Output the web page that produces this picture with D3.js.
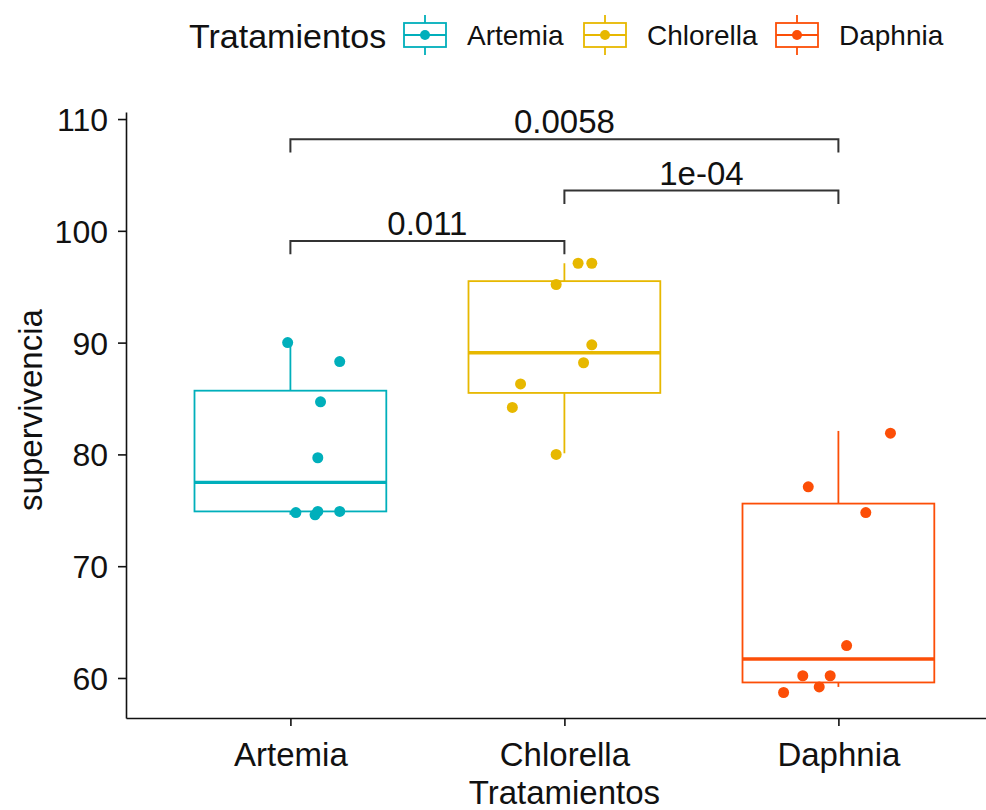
<!DOCTYPE html>
<html>
<head>
<meta charset="utf-8">
<script src="https://cdn.jsdelivr.net/npm/d3@7"></script>
<style>
  body { margin: 0; background: #fff; }
  svg text { font-family: "Liberation Sans", Arial, sans-serif; fill: #111; }
</style>
</head>
<body>
<div id="chart"></div>
<script>
// Data
const categories = ["Artemia", "Chlorella", "Daphnia"];
const colors = ["#00AFBB", "#E7B800", "#FC4E07"];

const artemiaPts = [90.0, 88.3, 84.7, 79.7, 74.8, 74.6, 74.9, 74.9];
const artemiaJitter = [-0.01, 0.18, 0.11, 0.10, 0.02, 0.09, 0.10, 0.18];
const chlorellaPts = [97.1, 97.1, 95.2, 89.8, 88.2, 86.3, 84.2, 80.0];
const chlorellaJitter = [0.05, 0.10, -0.03, 0.10, 0.07, -0.16, -0.19, -0.03];
const daphniaPts = [81.9, 77.1, 74.8, 62.9, 60.2, 60.2, 59.2, 58.7];
const daphniaJitter = [0.19, -0.11, 0.10, 0.03, -0.13, -0.03, -0.07, -0.20];

// box stats: [whisker low, q1, median, q3, whisker high]
const artemiaBox = [74.6, 74.9, 77.5, 85.7, 90.0];
const chlorellaBox = [80.1, 85.5, 89.1, 95.5, 97.1];
const daphniaBox = [59.2, 59.6, 61.7, 75.6, 82.1];

const yTicks = [60, 70, 80, 90, 100, 110];

const comparisons = [["Artemia", "Chlorella"], ["Chlorella", "Daphnia"], ["Artemia", "Daphnia"]];
const pLabels = ["0.011", "1e-04", "0.0058"];
const bracketY = [99.1, 103.6, 108.2];

const width = 986, height = 810;
const plotLeft = 126, plotTop = 112, plotBottom = 718;
const step = 274;

const groups = categories.map((c, i) => ({
    name: c,
    color: colors[i],
    pts: [artemiaPts, chlorellaPts, daphniaPts][i],
    jit: [artemiaJitter, chlorellaJitter, daphniaJitter][i],
    box: [artemiaBox, chlorellaBox, daphniaBox][i]
}));

const svg = d3.select("#chart").append("svg")
    .attr("width", width)
    .attr("height", height);

const x = d3.scalePoint()
    .domain(categories)
    .range([plotLeft, plotLeft + step * 3.2])
    .padding(0.6);

const y = d3.scaleLinear()
    .domain([56.42, 110.63])
    .range([plotBottom, plotTop]);

const boxW = step * 0.7;

// Axes
const yAxis = svg.append("g")
    .attr("transform", `translate(${plotLeft},0)`)
    .call(d3.axisLeft(y).tickValues(yTicks).tickSize(8).tickSizeOuter(0).tickPadding(10));

const xAxis = svg.append("g")
    .attr("transform", `translate(0,${plotBottom})`)
    .call(d3.axisBottom(x).tickSize(8).tickSizeOuter(0));

[yAxis, xAxis].forEach(a => {
    a.select(".domain").attr("stroke", "#111").attr("stroke-width", 1.6);
    a.selectAll(".tick line").attr("stroke", "#111").attr("stroke-width", 1.6);
});
yAxis.selectAll(".tick text").style("font-size", "32px").attr("dy", "0.36em");
xAxis.selectAll(".tick text").style("font-size", "33px").attr("y", 48).attr("dy", 0);

// Axis titles
svg.append("text")
    .attr("transform", `translate(42, 410) rotate(-90)`)
    .attr("text-anchor", "middle")
    .style("font-size", "33px")
    .text("supervivencia");

svg.append("text")
    .attr("x", x("Chlorella"))
    .attr("y", 804)
    .attr("text-anchor", "middle")
    .style("font-size", "33px")
    .text("Tratamientos");

// Boxplots
const g = svg.selectAll(".grp")
    .data(groups)
    .enter().append("g")
    .attr("class", "grp");

g.append("line")
    .attr("x1", d => x(d.name)).attr("x2", d => x(d.name))
    .attr("y1", d => y(d.box[3])).attr("y2", d => y(d.box[4]))
    .attr("stroke", d => d.color).attr("stroke-width", 1.8);

g.append("line")
    .attr("x1", d => x(d.name)).attr("x2", d => x(d.name))
    .attr("y1", d => y(d.box[0])).attr("y2", d => y(d.box[1]))
    .attr("stroke", d => d.color).attr("stroke-width", 1.8);

g.append("rect")
    .attr("x", d => x(d.name) - boxW / 2)
    .attr("width", boxW)
    .attr("y", d => y(d.box[3]))
    .attr("height", d => y(d.box[1]) - y(d.box[3]))
    .attr("fill", "#fff")
    .attr("stroke", d => d.color)
    .attr("stroke-width", 1.8);

g.append("line")
    .attr("x1", d => x(d.name) - boxW / 2).attr("x2", d => x(d.name) + boxW / 2)
    .attr("y1", d => y(d.box[2])).attr("y2", d => y(d.box[2]))
    .attr("stroke", d => d.color).attr("stroke-width", 3.4);

// Jittered points
g.selectAll("circle")
    .data(d => d.pts.map((v, i) => ({ v, j: d.jit[i], name: d.name, color: d.color })))
    .enter().append("circle")
    .attr("cx", d => x(d.name) + d.j * step)
    .attr("cy", d => y(d.v))
    .attr("r", 5.5)
    .attr("fill", d => d.color);

// Significance brackets
const tip = 1.2;
const br = svg.selectAll(".bracket")
    .data(comparisons.map((c, i) => ({ a: c[0], b: c[1], y: bracketY[i], label: pLabels[i] })))
    .enter().append("g")
    .attr("class", "bracket");

br.append("path")
    .attr("d", d => `M${x(d.a)},${y(d.y - tip)}V${y(d.y)}H${x(d.b)}V${y(d.y - tip)}`)
    .attr("fill", "none")
    .attr("stroke", "#333")
    .attr("stroke-width", 2);

br.append("text")
    .attr("x", d => (x(d.a) + x(d.b)) / 2)
    .attr("y", d => y(d.y) - 6)
    .attr("text-anchor", "middle")
    .style("font-size", "33px")
    .text(d => d.label);

// Legend
const legend = svg.append("g");
legend.append("text")
    .attr("x", 189)
    .attr("y", 48)
    .style("font-size", "34px")
    .text("Tratamientos");

const keyX = [404, 584, 776];
const item = legend.selectAll(".key")
    .data(groups)
    .enter().append("g")
    .attr("class", "key")
    .attr("transform", (d, i) => `translate(${keyX[i]},0)`);

item.append("line")
    .attr("x1", 21).attr("x2", 21).attr("y1", 15).attr("y2", 55)
    .attr("stroke", d => d.color).attr("stroke-width", 1.8);
item.append("rect")
    .attr("x", 0).attr("y", 23).attr("width", 42).attr("height", 24)
    .attr("fill", "#fff")
    .attr("stroke", d => d.color).attr("stroke-width", 1.8);
item.append("line")
    .attr("x1", 0).attr("x2", 42).attr("y1", 35).attr("y2", 35)
    .attr("stroke", d => d.color).attr("stroke-width", 1.8);
item.append("circle")
    .attr("cx", 21).attr("cy", 35).attr("r", 5)
    .attr("fill", d => d.color);
item.append("text")
    .attr("x", 63)
    .attr("y", 45)
    .style("font-size", "28px")
    .text(d => d.name);
</script>
</body>
</html>
